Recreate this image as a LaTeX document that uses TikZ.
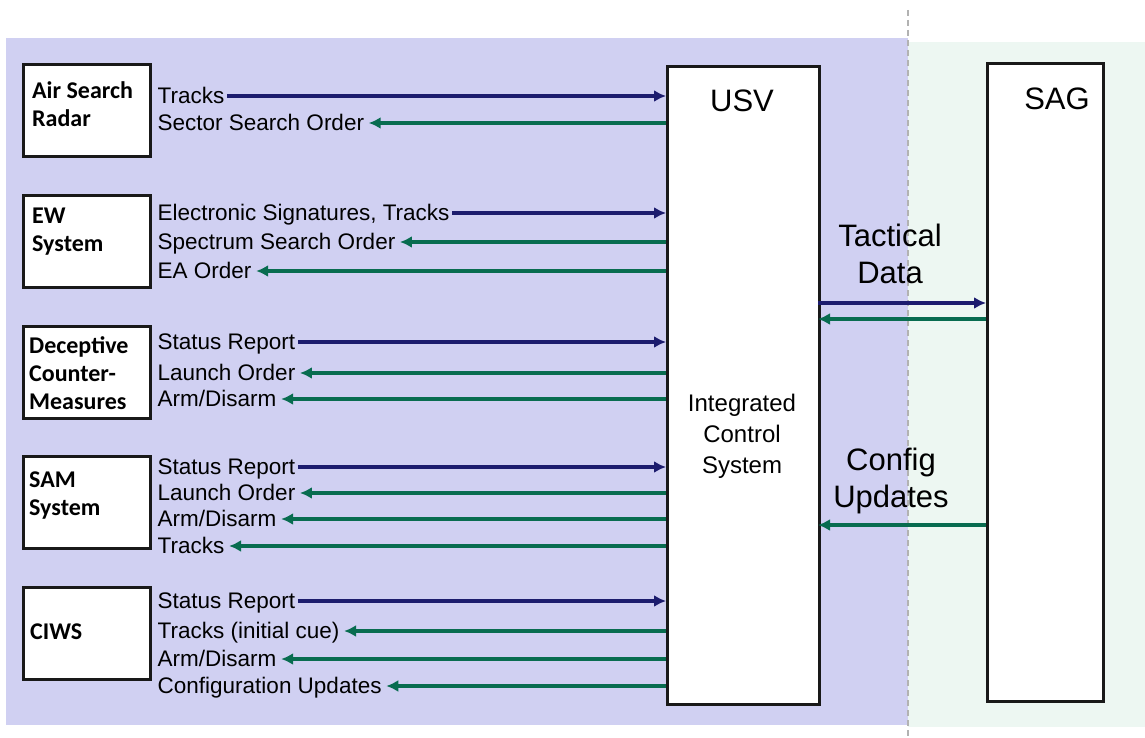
\documentclass[tikz,border=0pt]{standalone}
\usepackage{fontspec}
\setmainfont{Liberation Sans}
\newfontfamily\boxfont{Carlito}[BoldFont={* Bold}]
\usetikzlibrary{arrows.meta,calc}
\definecolor{navyflow}{RGB}{28,28,110}
\definecolor{greenflow}{RGB}{8,108,80}
\definecolor{shipzone}{RGB}{208,208,242}
\definecolor{groupzone}{RGB}{237,247,242}
\definecolor{frame}{RGB}{25,25,25}
\tikzset{
  sysbox/.style={draw=frame,line width=3.2pt,fill=white},
  sysname/.style={font=\boxfont\bfseries\fontsize{24}{28}\selectfont,align=left,anchor=north west,inner sep=0pt},
  msg/.style={font=\fontsize{22.5}{24}\selectfont,anchor=west,inner xsep=2.5pt,inner ysep=0pt,text height=0.72em,text depth=0pt},
  outflow/.style={draw=navyflow,line width=3.5pt,-{Latex[length=12pt,width=12pt]}},
  inflow/.style={draw=greenflow,line width=3.5pt,-{Latex[length=12pt,width=12pt]}},
  bigtext/.style={font=\fontsize{31}{37}\selectfont,align=center},
}
\begin{document}
\begin{tikzpicture}[x=1pt,y=-1pt]
\useasboundingbox (0,0) rectangle (1145,738);
% zones
\fill[shipzone] (6,38) rectangle (908,725);
\fill[groupzone] (908,42) rectangle (1145,727);
\draw[gray!60,line width=1.4pt,dash pattern=on 6pt off 4pt] (908,10) -- (908,738);

% central and remote nodes
\node[sysbox,minimum width=152pt,minimum height=638pt,anchor=north west] (usv) at (666,65) {};
\node[sysbox,minimum width=116pt,minimum height=638pt,anchor=north west] (sag) at (986,62) {};
\node[font=\fontsize{31}{34}\selectfont] (usvname) at (742,101) {USV};
\node[font=\fontsize{31}{34}\selectfont] (sagname) at (1057,99) {SAG};
\node[font=\fontsize{24}{31}\selectfont,align=center] (ics) at (742,436) {Integrated\\Control\\System};

% subsystems
\foreach \nm/\top in {asr/63,ew/194,dcm/325,sam/455,ciws/586}
  \node[sysbox,minimum width=127pt,minimum height=92pt,anchor=north west] (\nm) at (22,\top) {};
\node[sysname] (asrname) at (32,81) {Air Search\\Radar};
\node[sysname] (ewname) at (32,208) {EW\\System};
\node[sysname] (dcmname) at (29,336) {Deceptive\\Counter-\\Measures};
\node[sysname] (samname) at (29,472) {SAM\\System};
\node[sysname] (ciwsname) at (30,624) {CIWS};

% message labels (the text sits 4pt below its arrow line)
\foreach \m/\y/\t in {m1/96/Tracks, m2/123/Sector Search Order,
    m3/213/{Electronic Signatures, Tracks}, m4/242/Spectrum Search Order, m5/271/EA Order,
    m6/342/Status Report, m7/373/Launch Order, m8/399/Arm\slash Disarm,
    m9/467/Status Report, m10/493/Launch Order, m11/519/Arm\slash Disarm, m12/546/Tracks,
    m13/601/Status Report, m14/631/Tracks (initial cue), m15/659/Arm\slash Disarm,
    m16/686/Configuration Updates}
  \node[msg] (\m) at (155,\y+4) {\t};

% reports towards the USV
\foreach \m in {m1,m3,m6,m9,m13}
  \draw[outflow] ([yshift=4pt]\m.east) -- ([yshift=4pt]\m.east -| usv.west);
% orders from the USV
\foreach \m in {m2,m4,m5,m7,m8,m10,m11,m12,m14,m15,m16}
  \draw[inflow] ([yshift=4pt]\m.east -| usv.west) -- ([xshift=2pt,yshift=4pt]\m.east);

% USV <-> SAG links
\coordinate (td) at (818,303);
\coordinate (tdback) at (818,319);
\coordinate (cu) at (818,525);
\draw[outflow] (td) -- (td -| sag.west);
\draw[inflow] (tdback -| sag.west) -- (tdback);
\draw[inflow] (cu -| sag.west) -- (cu);
\node[bigtext] (tactical) at (890,254) {Tactical\\Data};
\node[bigtext] (config) at (891,481) {Config\\Updates};
\end{tikzpicture}
\end{document}
